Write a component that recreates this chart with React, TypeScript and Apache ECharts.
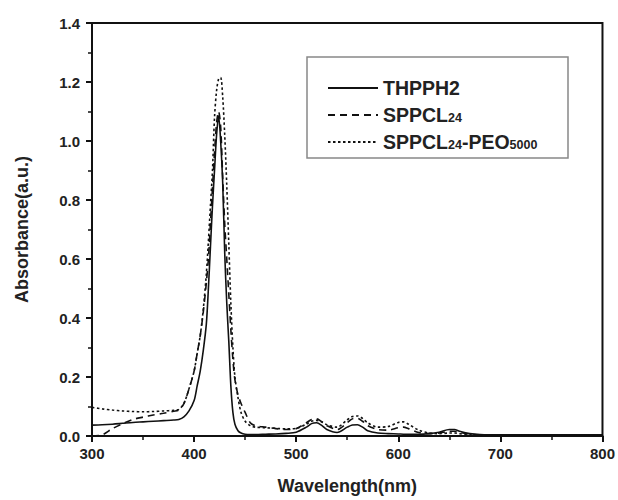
import React, { useEffect, useRef } from "react";
import * as echarts from "echarts";

const wavelengths = [300,310,320,330,340,350,360,370,380,385,390,395,400,403,406,409,412,414,416,418,420,422,424,426,428,430,432,434,436,438,440,443,446,450,455,460,470,480,490,500,510,515,520,525,530,540,550,555,560,565,570,580,590,600,605,610,620,630,640,650,655,660,670,680,700,720,750,780,800];

const thpph2 = [0.037,0.038,0.040,0.043,0.046,0.048,0.050,0.052,0.054,0.056,
0.065,0.085,0.12,0.17,0.22,0.29,0.38,0.5,0.64,0.78,
0.9,1.02,1.085,1.0,0.86,0.62,0.45,0.32,0.17,0.08,
0.04,0.018,0.01,0.006,0.005,0.005,0.006,0.007,0.009,0.013,
0.03,0.042,0.045,0.036,0.022,0.012,0.03,0.037,0.038,0.03,
0.018,0.01,0.008,0.007,0.006,0.006,0.006,0.008,0.013,0.022,
0.022,0.016,0.008,0.005,0.004,0.004,0.004,0.004,0.004];

const sppcl24 = [0.0,0.004,0.025,0.042,0.056,0.064,0.071,0.077,0.084,0.088,
0.11,0.16,0.22,0.28,0.34,0.42,0.52,0.6,0.72,0.84,
0.96,1.06,1.10,1.05,0.88,0.72,0.6,0.48,0.36,0.26,
0.19,0.14,0.11,0.08,0.045,0.035,0.03,0.025,0.022,0.025,
0.045,0.056,0.058,0.048,0.035,0.022,0.045,0.058,0.06,0.05,
0.035,0.022,0.02,0.028,0.03,0.025,0.012,0.008,0.01,0.016,
0.016,0.012,0.006,0.004,0.004,0.004,0.004,0.004,0.004];

const sppcl24Peo = [0.097,0.092,0.088,0.085,0.083,0.082,0.083,0.085,0.087,0.09,
0.11,0.16,0.22,0.28,0.34,0.43,0.55,0.66,0.78,0.9,
1.08,1.17,1.21,1.215,1.15,1.02,0.85,0.65,0.45,0.3,
0.2,0.13,0.08,0.05,0.035,0.03,0.028,0.026,0.024,0.026,
0.04,0.05,0.053,0.048,0.038,0.03,0.055,0.066,0.068,0.06,
0.045,0.03,0.032,0.046,0.048,0.04,0.02,0.01,0.008,0.01,
0.01,0.008,0.005,0.004,0.004,0.004,0.004,0.004,0.004];

const seriesNames = ["THPPH2", "SPPCL24", "SPPCL24-PEO5000"];
const xTicks = [300, 400, 500, 600, 700, 800];

const FONT = "'Liberation Sans', Arial, sans-serif";

function pairs(ys: number[]) {
  return wavelengths.map((x, i) => [x, ys[i]]);
}

function legendLabel(name: string): string {
  if (name === "SPPCL24") return "{b|SPPCL}{s|24}";
  if (name === "SPPCL24-PEO5000") return "{b|SPPCL}{s|24}{b|-PEO}{s|5000}";
  return "{b|" + name + "}";
}

export default function App() {
  const ref = useRef<HTMLDivElement>(null);
  useEffect(() => {
    if (!ref.current) return;
    const chart = echarts.init(ref.current, undefined, { renderer: "svg" });
    const lineCommon = { type: "line", showSymbol: false, symbol: "none", smooth: 0.3, z: 3 };
    chart.setOption({
      animation: false,
      backgroundColor: "#fff",
      textStyle: { fontFamily: FONT },
      grid: { left: 92, right: 15, top: 23, bottom: 64, show: true, borderColor: "#111", borderWidth: 2 },
      legend: {
        data: seriesNames,
        orient: "vertical",
        left: 327,
        top: 78,
        padding: 0,
        itemGap: 7,
        itemWidth: 50,
        itemHeight: 14,
        itemStyle: { opacity: 0 },
        formatter: legendLabel,
        textStyle: {
          rich: {
            b: { fontSize: 19.5, fontWeight: "bold", color: "#222", fontFamily: FONT, lineHeight: 22 },
            s: { fontSize: 12.5, fontWeight: "bold", color: "#222", fontFamily: FONT, lineHeight: 22, padding: [5, 0, 0, 0] },
          },
        },
      },
      graphic: [
        { type: "rect", shape: { x: 307, y: 57, width: 261, height: 101 }, style: { fill: "none", stroke: "#888", lineWidth: 1.5 }, z: 10 },
      ],
      xAxis: {
        type: "value",
        min: 300,
        max: 800,
        interval: 100,
        name: "Wavelength(nm)",
        nameLocation: "middle",
        nameGap: 41,
        nameTextStyle: { fontSize: 18, fontWeight: "bold", color: "#222", fontFamily: FONT },
        axisLine: { show: true, lineStyle: { color: "#111", width: 2 } },
        axisTick: { show: true, inside: false, length: 6, lineStyle: { color: "#111", width: 2 } },
        minorTick: { show: true, splitNumber: 2, length: 4, lineStyle: { color: "#111", width: 1.5 } },
        splitLine: { show: false },
        axisLabel: { fontSize: 15, fontWeight: "bold", color: "#222", margin: 10, fontFamily: FONT,
          formatter: (v: number) => (xTicks.indexOf(v) >= 0 ? String(v) : "") },
      },
      yAxis: {
        type: "value",
        min: 0,
        max: 1.4,
        interval: 0.2,
        name: "Absorbance(a.u.)",
        nameLocation: "middle",
        nameGap: 61,
        nameRotate: 90,
        nameTextStyle: { fontSize: 18, fontWeight: "bold", color: "#222", fontFamily: FONT },
        axisLine: { show: true, lineStyle: { color: "#111", width: 2 } },
        axisTick: { show: true, inside: false, length: 6, lineStyle: { color: "#111", width: 2 } },
        minorTick: { show: true, splitNumber: 2, length: 4, lineStyle: { color: "#111", width: 1.5 } },
        splitLine: { show: false },
        axisLabel: { fontSize: 15, fontWeight: "bold", color: "#222", margin: 12, fontFamily: FONT,
          formatter: (v: number) => v.toFixed(1) },
      },
      series: [
        { ...lineCommon, name: seriesNames[0], data: pairs(thpph2), itemStyle: { color: "#111" }, lineStyle: { color: "#111", width: 1.6, type: "solid" } },
        { ...lineCommon, name: seriesNames[1], data: pairs(sppcl24), itemStyle: { color: "#111" }, lineStyle: { color: "#111", width: 1.6, type: [7, 5] } },
        { ...lineCommon, name: seriesNames[2], data: pairs(sppcl24Peo), itemStyle: { color: "#111" }, lineStyle: { color: "#111", width: 1.6, type: [2.5, 2.5] } },
      ],
    });
    return () => chart.dispose();
  }, []);
  return <div ref={ref} style={{ width: 618, height: 500, position: "absolute", left: 0, top: 0 }} />;
}
